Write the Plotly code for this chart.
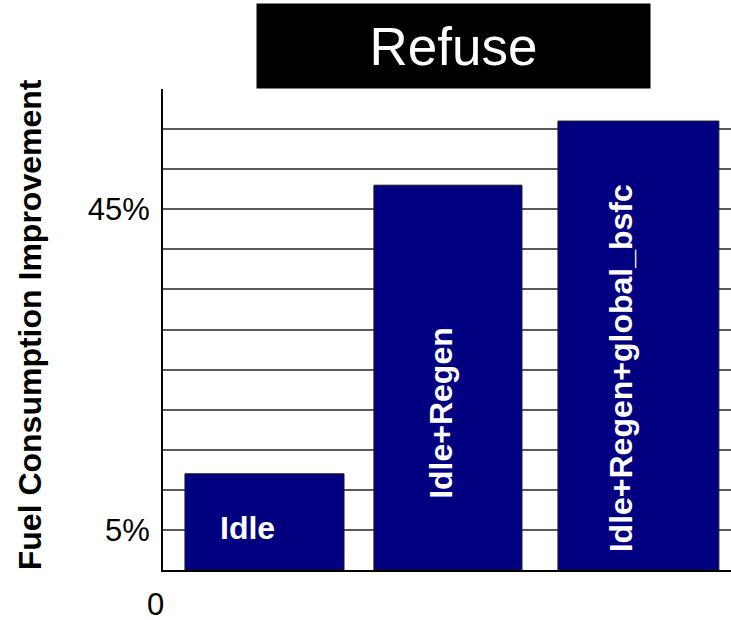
import plotly.graph_objects as go

# Data
categories = ["Idle", "Idle+Regen", "Idle+Regen+global_bsfc"]
improvement_pct = [12, 48, 56]
grid_values = [5, 10, 15, 20, 25, 30, 35, 40, 45, 50, 55, 60]
grid_labels = ["5%", "", "", "", "", "", "", "", "45%", "", "", ""]

# Bar geometry (category units) and label placement styles
bar_offsets = [-0.384, -0.386, -0.414]
bar_widths = [0.840, 0.782, 0.850]
label_y = [5.3, 19.6, 25.2]
label_xshift = [-10, -6, -15]
label_angle = [0, -90, -90]

FONT = "Arial, Liberation Sans, sans-serif"
NAVY = "#000080"

fig = go.Figure()
fig.add_trace(go.Bar(
    x=categories,
    y=improvement_pct,
    offset=bar_offsets,
    width=bar_widths,
    marker=dict(color=NAVY, line=dict(color="#1a1a1a", width=1)),
    hoverinfo="x+y",
))

annotations = []
for cat, yv, dx, ang in zip(categories, label_y, label_xshift, label_angle):
    annotations.append(dict(
        x=cat, y=yv, xref="x", yref="y", xshift=dx,
        text=f"<b>{cat}</b>", textangle=ang, showarrow=False,
        font=dict(family=FONT, size=32, color="white"),
        xanchor="center", yanchor="middle",
    ))

# Title block
annotations.append(dict(
    x=0.5114, y=1.0894, xref="paper", yref="paper",
    text="Refuse", showarrow=False,
    width=391, height=82, bgcolor="black",
    font=dict(family=FONT, size=53, color="white"),
    xanchor="center", yanchor="middle",
))

# Axis title
annotations.append(dict(
    x=-0.2340, y=0.509, xref="paper", yref="paper",
    text="<b>Fuel Consumption Improvement</b>", textangle=-90, showarrow=False,
    font=dict(family=FONT, size=32, color="black"),
    xanchor="center", yanchor="middle",
))

# Origin label
annotations.append(dict(
    x=-0.014, y=0, xref="paper", yref="y", yshift=-34,
    text="0", showarrow=False, height=30, borderpad=0,
    font=dict(family=FONT, size=31, color="black"),
    xanchor="center", yanchor="middle",
))

fig.update_layout(
    width=731, height=620,
    margin=dict(l=163, r=0, t=89, b=50),
    paper_bgcolor="white", plot_bgcolor="white",
    showlegend=False,
    annotations=annotations,
    xaxis=dict(
        type="category", range=[-0.5, 2.5],
        showticklabels=False, showgrid=False, zeroline=False,
        showline=True, linecolor="black", linewidth=2,
    ),
    yaxis=dict(
        range=[0, 60],
        tickvals=grid_values, ticktext=grid_labels,
        tickfont=dict(family=FONT, size=31, color="black"),
        ticklabelstandoff=5,
        showgrid=True, gridcolor="#5a5a5a", gridwidth=1.5,
        zeroline=False,
        showline=True, linecolor="black", linewidth=2,
    ),
)

fig.write_html("out.html")
